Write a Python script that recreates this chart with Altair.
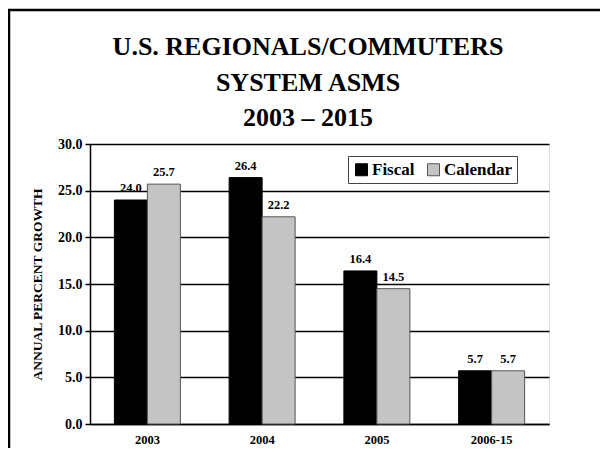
import altair as alt
import pandas as pd

categories = ["2003", "2004", "2005", "2006-15"]
fiscal = [24.0, 26.4, 16.4, 5.7]
calendar = [25.7, 22.2, 14.5, 5.7]
series = ["Fiscal", "Calendar"]
title_lines = ["U.S. REGIONALS/COMMUTERS", "SYSTEM ASMS", "2003 \u2013 2015"]
y_ticks = [0, 5, 10, 15, 20, 25, 30]

rows = []
for c, f, k in zip(categories, fiscal, calendar):
    rows.append({"period": c, "series": "Fiscal", "value": f})
    rows.append({"period": c, "series": "Calendar", "value": k})
df = pd.DataFrame(rows)

FONT = "Liberation Serif"
W, H = 459, 280

x = alt.X(
    "period:N", sort=categories,
    scale=alt.Scale(paddingInner=0.425, paddingOuter=0.2125),
    axis=alt.Axis(title=None, labelAngle=0, ticks=False, domain=True, domainColor="black",
                  domainWidth=1.5, labelPadding=9, labelFontSize=12.5, labelFont=FONT,
                  labelFontWeight="bold", labelColor="black", grid=False),
)
xo = alt.XOffset("series:N", sort=series, scale=alt.Scale(domain=series, paddingInner=0, paddingOuter=0))
y = alt.Y(
    "value:Q",
    scale=alt.Scale(domain=[0, 30], nice=False),
    axis=alt.Axis(values=y_ticks, format=".1f", title="ANNUAL PERCENT GROWTH",
                  titleFont=FONT, titleFontSize=13.5, titleFontWeight="bold", titleColor="black",
                  titlePadding=13,
                  labelFont=FONT, labelFontSize=14, labelFontWeight="bold", labelColor="black",
                  labelPadding=3, tickColor="black", tickSize=5, tickWidth=1.5,
                  domainColor="black", domainWidth=1.5,
                  grid=True, gridColor="black", gridWidth=1.3),
)
color = alt.Color(
    "series:N", sort=series,
    scale=alt.Scale(domain=series, range=["#000000", "#c4c4c4"]),
    legend=alt.Legend(
        title=None, orient="none", legendX=258, legendY=12, direction="horizontal",
        symbolType="square", symbolSize=144, symbolStrokeColor="#555555", symbolStrokeWidth=1,
        labelFont=FONT, labelFontSize=17, labelFontWeight="bold", labelColor="black",
        labelOffset=2, columnPadding=10, padding=5, strokeColor="#444444",
        fillColor="white",
    ),
)
stroke = alt.Stroke("series:N", sort=series,
                    scale=alt.Scale(domain=series, range=["#000000", "#555555"]), legend=None)

base = alt.Chart(df)
bars = base.mark_bar(strokeWidth=1).encode(x=x, xOffset=xo, y=y, color=color, stroke=stroke)
labels = base.mark_text(dy=-5, baseline="bottom", font=FONT, fontSize=12.5, fontWeight="bold",
                        color="black").encode(
    x=x, xOffset=xo, y=y, text=alt.Text("value:Q", format=".1f"))

one = alt.Data(values=[{"a": 1}])
title_y = [-89, -53, -18]
titles = [
    alt.Chart(one).mark_text(font=FONT, fontSize=26, fontWeight="bold", color="black",
                             align="center", baseline="alphabetic").encode(
        x=alt.value(218), y=alt.value(ty), text=alt.value(t))
    for t, ty in zip(title_lines, title_y)
]
frame_left = alt.Chart(one).mark_rule(color="black", strokeWidth=2.5).encode(
    x=alt.value(-81), y=alt.value(-135), y2=alt.value(400))
frame_top = alt.Chart(one).mark_rule(color="black", strokeWidth=2.5).encode(
    x=alt.value(-82), x2=alt.value(600), y=alt.value(-134))

chart = alt.layer(bars, labels, *titles, frame_left, frame_top).properties(
    width=W, height=H,
    autosize=alt.AutoSizeParams(type="none"),
    padding={"left": 82, "top": 136, "right": 51, "bottom": 24},
).configure_view(stroke="#7f7f7f", strokeWidth=2).configure(background="white")

chart.save("out.html", embed_options={"renderer": "svg", "actions": False})
